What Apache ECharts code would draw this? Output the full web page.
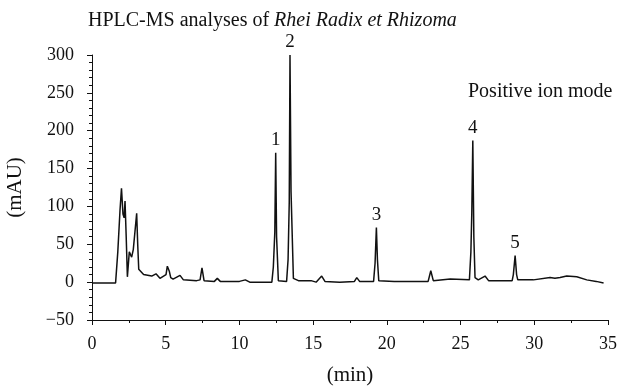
<!DOCTYPE html>
<html>
<head>
<meta charset="utf-8">
<script src="https://cdn.jsdelivr.net/npm/echarts@6/dist/echarts.min.js"></script>
<style>
  html, body { margin: 0; padding: 0; background: #fff; }
  #chart { width: 621px; height: 387px; }
</style>
</head>
<body>
<div id="chart"></div>
<script>
// retention time (min) and signal (mAU)
var times = [0, 1.6, 1.75, 1.9, 2.0, 2.1, 2.18, 2.24, 2.32, 2.4, 2.53, 2.62, 2.69, 2.8, 2.92, 3.03, 3.1, 3.17,
    3.5, 4.05, 4.34, 4.61, 5.02, 5.11, 5.25, 5.34, 5.5, 5.97, 6.2, 7.1, 7.33, 7.46, 7.6, 8.3, 8.5, 8.7,
    10.0, 10.4, 10.7, 12.2, 12.3, 12.4, 12.46, 12.52, 12.64, 13.2, 13.3, 13.38, 13.43, 13.5, 13.66,
    14.0, 14.86, 15.2, 15.58, 15.8, 16.8, 17.8, 17.96, 18.15, 19.1, 19.2, 19.29, 19.36, 19.45,
    20.5, 21.5, 22.8, 22.98, 23.15, 24.3, 25.6, 25.7, 25.76, 25.83, 25.9, 25.98, 26.2, 26.66, 26.9,
    28.5, 28.58, 28.7, 28.8, 28.88, 29.94, 31.07, 31.4, 31.75, 32.2, 32.88, 33.56, 34.2, 34.7];
var signal = [-1, -1, 40, 95, 124, 90, 85, 107, 60, 7, 40, 36, 33, 43, 45, 91, 50, 17,
    10, 8, 11, 5, 10, 21, 14, 6, 4, 9, 3, 2, 3, 19, 2, 1, 5, 1,
    1, 3, 0, 0, 20, 66, 171, 60, 2, 1, 30, 106, 300, 120, 5,
    2, 2, 0, 8, 1, 0, 1, 6, 1, 1, 25, 72, 30, 2,
    1, 1, 1, 15, 2, 4, 3, 40, 90, 187, 60, 6, 3, 8, 2,
    2, 10, 35, 10, 3, 3, 6, 5, 6, 8, 7, 3, 1, -1];

// numbered peaks
var peakTimes = [12.46, 13.43, 19.29, 25.83, 28.7];
var peakNames = ['1', '2', '3', '4', '5'];

var xTicks = { min: 0, max: 35, step: 5 };
var yTicks = { min: -50, max: 300, step: 50 };

var serif = 'Liberation Serif';

var peakMarks = peakTimes.map(function (t, k) {
    return { coord: [t, signal[times.indexOf(t)]], value: peakNames[k] };
});

// typographic minus for negative ticks
function minus(v) {
    return String(v).replace('-', '\u2212');
}

var chart = echarts.init(document.getElementById('chart'));
chart.setOption({
    animation: false,
    backgroundColor: '#fff',
    title: [{
        text: '{a|HPLC-MS analyses of }{b|Rhei Radix et Rhizoma}',
        left: 83,
        top: 6,
        textStyle: {
            fontWeight: 'normal',
            rich: {
                a: { fontFamily: serif, fontSize: 20, fontWeight: 'normal', color: '#111' },
                b: { fontFamily: serif, fontSize: 20, fontWeight: 'normal', fontStyle: 'italic', color: '#111' }
            }
        }
    }, {
        text: 'Positive ion mode',
        left: 463,
        top: 77,
        textStyle: { fontFamily: serif, fontSize: 20, fontWeight: 'normal', color: '#111' }
    }],
    grid: { left: 92, right: 13, top: 55, bottom: 67, outerBoundsMode: 'none', containLabel: false },
    xAxis: {
        type: 'value',
        min: xTicks.min, max: xTicks.max, interval: xTicks.step,
        name: '(min)',
        nameLocation: 'middle',
        nameGap: 45,
        nameTextStyle: { fontFamily: serif, fontSize: 21, color: '#111' },
        axisLine: { onZero: false, lineStyle: { color: '#111', width: 1 } },
        axisTick: { length: 5, lineStyle: { color: '#111' } },
        minorTick: { show: true, splitNumber: 2, length: 3, lineStyle: { color: '#111' } },
        axisLabel: { fontFamily: serif, fontSize: 18, color: '#111', margin: 15 },
        splitLine: { show: false }
    },
    yAxis: {
        type: 'value',
        min: yTicks.min, max: yTicks.max, interval: yTicks.step,
        name: '(mAU)',
        nameLocation: 'middle',
        nameGap: 66,
        nameRotate: 90,
        nameTextStyle: { fontFamily: serif, fontSize: 21, color: '#111' },
        axisLine: { show: true, lineStyle: { color: '#111', width: 1 } },
        axisTick: { length: 5, lineStyle: { color: '#111' } },
        minorTick: { show: true, splitNumber: 5, length: 3, lineStyle: { color: '#111' } },
        axisLabel: { fontFamily: serif, fontSize: 18, color: '#111', margin: 18, formatter: minus },
        splitLine: { show: false }
    },
    series: [{
        type: 'line',
        data: times.map(function (t, i) { return [t, signal[i]]; }),
        showSymbol: false,
        symbol: 'none',
        lineStyle: { color: '#111', width: 1.5 },
        markPoint: {
            symbol: 'circle',
            symbolSize: 1,
            itemStyle: { color: 'rgba(0,0,0,0)' },
            label: {
                show: true,
                position: 'top',
                distance: 3,
                formatter: '{c}',
                fontFamily: serif,
                fontSize: 19,
                color: '#111'
            },
            data: peakMarks
        }
    }]
});
</script>
</body>
</html>
